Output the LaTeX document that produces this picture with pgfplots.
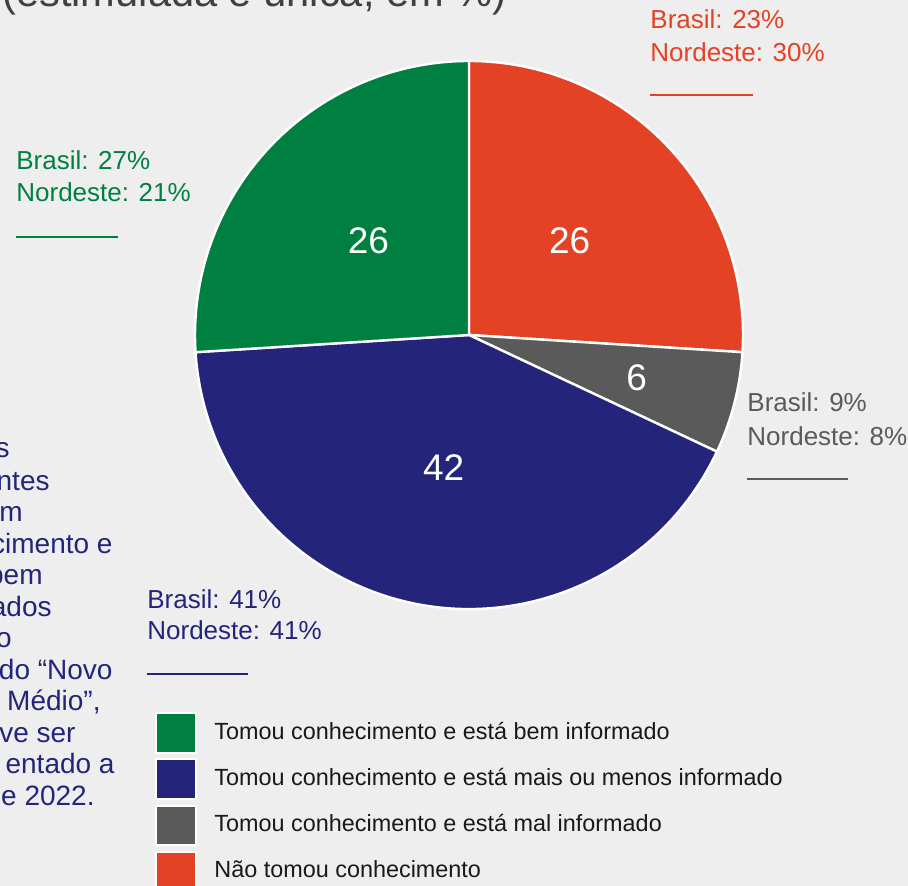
\documentclass[border=0pt]{standalone}
\usepackage{pgfplots}
\pgfplotsset{compat=1.18}
\usepackage{fontspec}
\setmainfont{Liberation Sans}

\definecolor{fundo}{HTML}{EEEEEE}
\definecolor{verde}{HTML}{008040}
\definecolor{azul}{HTML}{24257A}
\definecolor{cinza}{HTML}{5A5A5A}
\definecolor{vermelho}{HTML}{E34225}
\definecolor{titulo}{HTML}{404040}

% shares (%), clockwise from the top
\def\vRed{26}
\def\vGray{6}
\def\vNavy{42}
\def\vGreen{26}

\newcommand\fs[1]{\fontsize{#1}{#1}\selectfont}

\begin{document}
\begin{tikzpicture}
\pgfmathsetmacro\aA{90-3.6*\vRed}
\pgfmathsetmacro\aB{\aA-3.6*\vGray}
\pgfmathsetmacro\aC{\aB-3.6*\vNavy}
\pgfmathsetmacro\aD{\aC-3.6*\vGreen}
\pgfmathsetmacro\mA{(90+\aA)/2}
\pgfmathsetmacro\mB{(\aA+\aB)/2}
\pgfmathsetmacro\mC{(\aB+\aC)/2}
\pgfmathsetmacro\mD{(\aC+\aD)/2}
\begin{axis}[
    width=454pt, height=443pt, scale only axis,
    xmin=0, xmax=908, ymin=0, ymax=886, y dir=reverse,
    hide axis, clip=true]
  \fill[fundo] (axis cs:0,0) rectangle (axis cs:908,886);
  \coordinate (bl) at (axis cs:0,886);
  \coordinate (tr) at (axis cs:908,0);

  % title (cut off at the top)
  \node[anchor=base west, inner sep=0, text=titulo, font=\fs{20.8}]
    at (axis cs:2,7) {(estimulada e única, em \%)};

  % pie
  \begin{scope}[draw=white, line width=1.2pt]
  \filldraw[fill=vermelho] (axis cs:469,335) -- ++(90:137pt)
    arc[start angle=90, end angle=\aA, radius=137pt] -- cycle;
  \filldraw[fill=cinza] (axis cs:469,335) -- ++(\aA:137pt)
    arc[start angle=\aA, end angle=\aB, radius=137pt] -- cycle;
  \filldraw[fill=azul] (axis cs:469,335) -- ++(\aB:137pt)
    arc[start angle=\aB, end angle=\aC, radius=137pt] -- cycle;
  \filldraw[fill=verde] (axis cs:469,335) -- ++(\aC:137pt)
    arc[start angle=\aC, end angle=\aD, radius=137pt] -- cycle;
  \end{scope}

  \path (axis cs:469,335) ++(\mA:69pt) node[white, inner sep=0, font=\fs{18.5}] {\vRed};
  \path (axis cs:469,335) ++(\mB:86.5pt) node[white, inner sep=0, font=\fs{18.5}] {\vGray};
  \path (axis cs:469,335) ++(\mC:67.5pt) node[white, inner sep=0, font=\fs{18.5}] {\vNavy};
  \path (axis cs:469,335) ++(\mD:69pt) node[white, inner sep=0, font=\fs{18.5}] {\vGreen};

  % Brasil / Nordeste labels
  \begin{scope}[every node/.style={anchor=base west, inner sep=0, font=\fs{13}}]
  \node[text=verde] at (axis cs:16,170) {Brasil: 27\%};
  \node[text=verde] at (axis cs:16,202) {Nordeste: 21\%};
  \draw[verde, line width=0.7pt] (axis cs:16,237) -- (axis cs:118,237);

  \node[text=vermelho] at (axis cs:650,29) {Brasil: 23\%};
  \node[text=vermelho] at (axis cs:650,62) {Nordeste: 30\%};
  \draw[vermelho, line width=0.7pt] (axis cs:650,95) -- (axis cs:753,95);

  \node[text=cinza] at (axis cs:747,412) {Brasil: 9\%};
  \node[text=cinza] at (axis cs:747,445) {Nordeste: 8\%};
  \draw[cinza, line width=0.7pt] (axis cs:747,479) -- (axis cs:848,479);

  \node[text=azul] at (axis cs:147,608) {Brasil: 41\%};
  \node[text=azul] at (axis cs:147,639) {Nordeste: 41\%};
  \draw[azul, line width=0.7pt] (axis cs:147,674) -- (axis cs:248,674);
  \end{scope}

  % side text (cut off at the left edge)
  \begin{scope}[every node/.style={anchor=base east, inner sep=0, text=azul, font=\fs{14}}]
  \node at (axis cs:10,458) {s};
  \node at (axis cs:50,490) {ntes};
  \node at (axis cs:23,521) {m};
  \node at (axis cs:113,553) {cimento e};
  \node at (axis cs:43,584) {bem};
  \node at (axis cs:52,616) {ados};
  \node at (axis cs:12,647) {o};
  \node at (axis cs:113,679) {do “Novo};
  \node at (axis cs:101,710) {Médio”,};
  \node at (axis cs:76,742) {ve ser};
  \node at (axis cs:115,773) {entado a};
  \node at (axis cs:95,805) {e 2022.};
  \end{scope}

  % legend
  \filldraw[fill=verde, draw=white, line width=1pt] (axis cs:156,713) rectangle (axis cs:196,753);
  \filldraw[fill=azul, draw=white, line width=1pt] (axis cs:156,759) rectangle (axis cs:196,799);
  \filldraw[fill=cinza, draw=white, line width=1pt] (axis cs:156,806) rectangle (axis cs:196,845);
  \filldraw[fill=vermelho, draw=white, line width=1pt] (axis cs:156,852) rectangle (axis cs:196,892);
  \begin{scope}[every node/.style={anchor=base west, inner sep=0, text=black!90, font=\fs{11.7}}]
  \node at (axis cs:214,739) {Tomou conhecimento e está bem informado};
  \node at (axis cs:214,785) {Tomou conhecimento e está mais ou menos informado};
  \node at (axis cs:214,831) {Tomou conhecimento e está mal informado};
  \node at (axis cs:214,877) {Não tomou conhecimento};
  \end{scope}
\end{axis}
\pgfresetboundingbox
\useasboundingbox (bl) rectangle (tr);
\end{tikzpicture}
\end{document}
